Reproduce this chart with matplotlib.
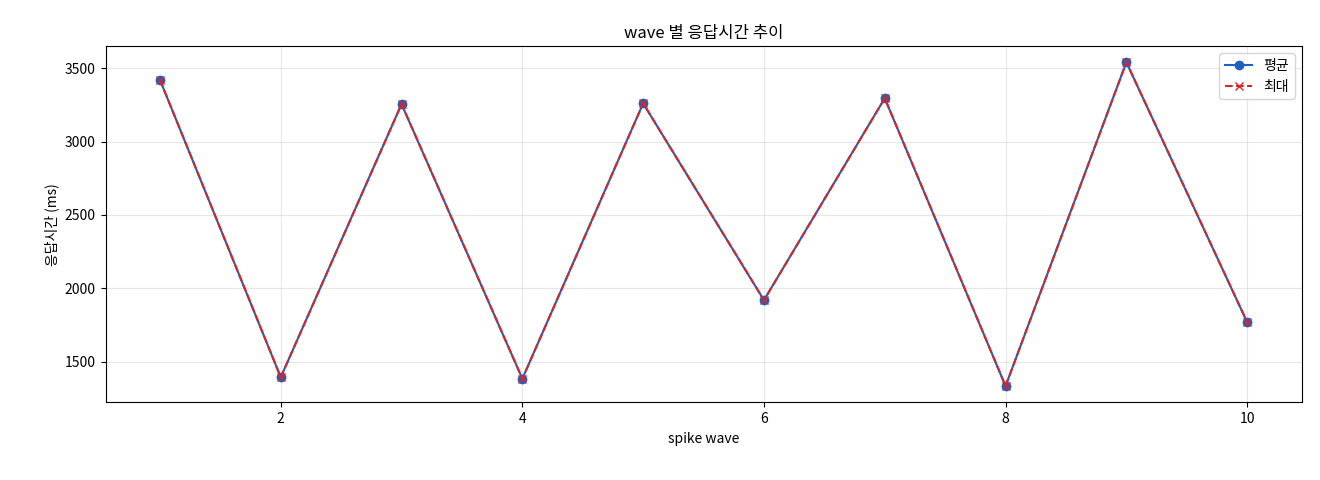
import matplotlib
matplotlib.use("Agg")
import matplotlib.pyplot as plt

plt.rcParams["font.family"] = ["Noto Sans CJK KR", "DejaVu Sans"]
plt.rcParams["axes.unicode_minus"] = False

waves = [1, 2, 3, 4, 5, 6, 7, 8, 9, 10]
avg_ms = [3420, 1395, 3255, 1385, 3260, 1920, 3295, 1335, 3540, 1770]
max_ms = [3420, 1395, 3255, 1385, 3260, 1920, 3295, 1335, 3540, 1770]

fig, ax = plt.subplots(figsize=(13.2, 4.8), dpi=100)
ax.plot(waves, avg_ms, marker="o", color="#1f5fbf", label="평균")
ax.plot(waves, max_ms, marker="x", linestyle="--", color="#d62728", label="최대")
ax.set_title("wave 별 응답시간 추이")
ax.set_xlabel("spike wave")
ax.set_ylabel("응답시간 (ms)")
ax.grid(True, alpha=0.3)
ax.legend(loc="upper right")
fig.subplots_adjust(left=0.08, right=0.986, top=0.904, bottom=0.162)
fig.savefig("out.png", dpi=100)
